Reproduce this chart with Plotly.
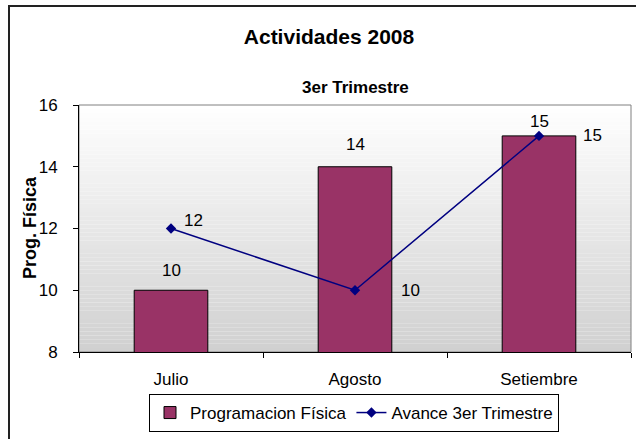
import plotly.graph_objects as go

# datos del gráfico
meses = ["Julio", "Agosto", "Setiembre"]
programacion = [10, 14, 15]
avance = [12, 10, 15]
y_ticks = [8, 10, 12, 14, 16]

W, H = 636, 439
L, R, T, B = 79, 5, 105, 87
PW, PH = W - L - R, H - T - B

FONT = "Arial, Liberation Sans, sans-serif"


def px_x(p):
    # pixel -> paper (x)
    return (p - L) / PW


def px_y(p):
    # pixel -> paper (y)
    return (H - B - p) / PH


fig = go.Figure()

fig.add_trace(go.Bar(
    x=meses, y=programacion, name="Programacion Física",
    marker=dict(color="#993366", line=dict(color="black", width=1)),
    hoverinfo="x+y",
))
fig.add_trace(go.Scatter(
    x=meses, y=avance, name="Avance 3er Trimestre", mode="lines+markers",
    line=dict(color="#000080", width=1.5),
    marker=dict(symbol="diamond", size=8, color="#000080"),
))

# fondo degradado (blanco -> gris) con franjas
shapes = []
n = 60
for i in range(n):
    t = (i + 0.5) / n
    g = int(round(255 - (255 - 208) * t))
    shapes.append(dict(
        type="rect", xref="paper", yref="paper", layer="below",
        x0=0, x1=1, y0=1 - (i + 1) / n, y1=1 - i / n,
        fillcolor=f"rgb({g},{g},{g})", line=dict(width=0),
    ))
# borde del área de trazado
shapes.append(dict(type="rect", xref="paper", yref="paper", layer="below",
                   x0=0, x1=1, y0=0, y1=1, line=dict(color="#808080", width=1)))
# borde exterior del gráfico
shapes.append(dict(type="rect", xref="paper", yref="paper",
                   x0=px_x(9), x1=px_x(645), y0=px_y(448), y1=px_y(6),
                   line=dict(color="#222222", width=2)))

# etiquetas de datos
annotations = []
bar_shift = [20, 22, 14]
for m, v, s in zip(meses, programacion, bar_shift):
    annotations.append(dict(x=m, y=v, text=str(v), showarrow=False, yshift=s,
                            font=dict(size=17, color="black", family=FONT)))
line_shift = [(22, 8), (55, 0), (53, 0)]
for m, v, (sx, sy) in zip(meses, avance, line_shift):
    annotations.append(dict(x=m, y=v, text=str(v), showarrow=False,
                            xshift=sx, yshift=sy,
                            font=dict(size=17, color="black", family=FONT)))
annotations.append(dict(x=0.5, y=px_y(88), xref="paper", yref="paper",
                        xanchor="center", yanchor="middle",
                        text="<b>3er Trimestre</b>", showarrow=False,
                        font=dict(size=17, color="black", family=FONT)))
# título del eje Y
annotations.append(dict(x=px_x(30), y=px_y(228), xref="paper", yref="paper",
                        xanchor="center", yanchor="middle", textangle=-90,
                        text="<b>Prog. Física</b>", showarrow=False,
                        font=dict(size=18, color="black", family=FONT)))

fig.update_layout(
    width=W, height=H,
    margin=dict(l=L, r=R, t=T, b=B),
    paper_bgcolor="white", plot_bgcolor="rgba(0,0,0,0)",
    font=dict(family=FONT, size=17, color="black"),
    title=dict(text="<b>Actividades 2008</b>", x=329 / W, xanchor="center",
               y=1 - 37 / H, yanchor="middle",
               font=dict(size=21, family=FONT, color="black")),
    bargap=0.6,
    showlegend=True,
    legend=dict(orientation="h", x=px_x(354), xanchor="center",
                y=px_y(394), yanchor="top",
                bordercolor="black", borderwidth=1, bgcolor="white",
                font=dict(size=17, family=FONT, color="black")),
    xaxis=dict(showgrid=False, showline=True, linecolor="black", linewidth=1,
               ticks="outside", ticklen=5, tickcolor="black",
               tickson="boundaries", ticklabelstandoff=12,
               tickfont=dict(size=17)),
    yaxis=dict(range=[8, 16], tickvals=y_ticks, showgrid=False, zeroline=False,
               showline=True, linecolor="black", linewidth=1,
               ticks="outside", ticklen=5, tickcolor="black",
               ticklabelstandoff=12, tickfont=dict(size=17)),
    shapes=shapes,
    annotations=annotations,
)

fig.write_html("out.html", config={"displayModeBar": False},
               post_script="document.body.style.margin='0';")
